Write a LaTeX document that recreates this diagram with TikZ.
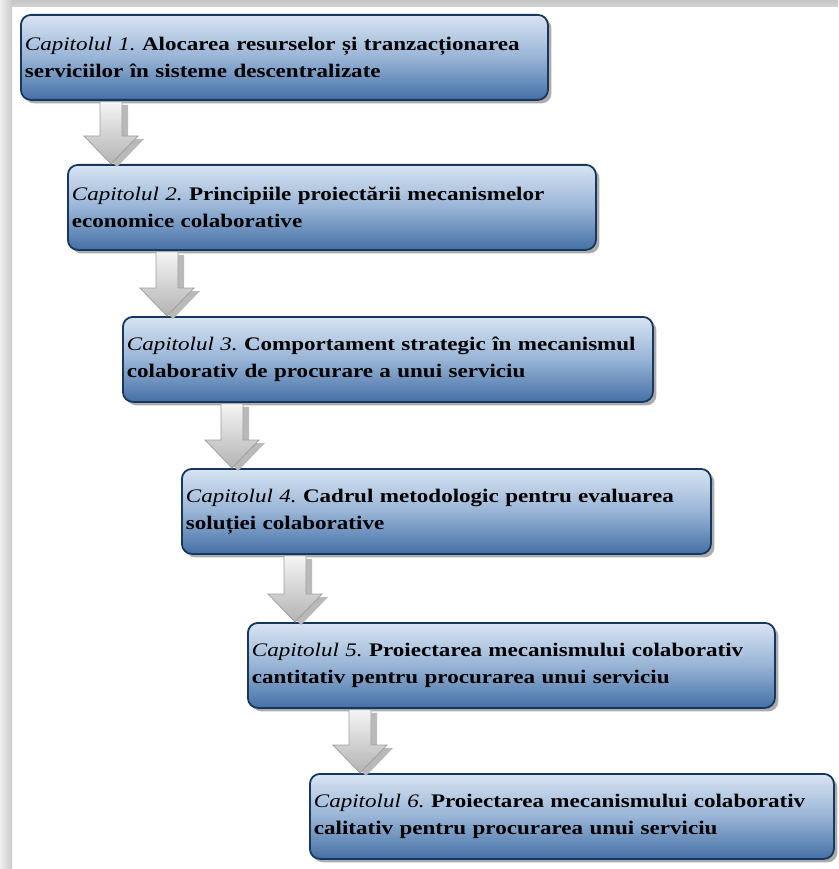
\documentclass[tikz,border=0pt]{standalone}
\usepackage{fontspec}
\setmainfont[FakeStretch=1.2]{Liberation Serif}
\usetikzlibrary{shadows,calc}
\definecolor{boxline}{RGB}{23,55,94}
\definecolor{boxtop}{RGB}{216,228,242}
\definecolor{boxmid}{RGB}{152,180,214}
\definecolor{boxbot}{RGB}{68,112,165}
\tikzset{
  chapbox/.style={draw=boxline, line width=1.8pt, rounded corners=10pt,
    top color=boxtop, bottom color=boxbot, middle color=boxmid,
    drop shadow={shadow xshift=3.5pt, shadow yshift=-3.5pt, fill=gray!65, opacity=1},
    anchor=north west, minimum height=85pt, inner xsep=4pt, inner ysep=0pt,
    align=left, font=\fontsize{19.2}{27}\selectfont\bfseries\frenchspacing},
  blockarrow/.style={draw=gray!75, line width=0.8pt, top color=gray!8, bottom color=gray!60,
    drop shadow={shadow xshift=6pt, shadow yshift=-3pt, fill=gray!55, opacity=1}}
}
\newcommand{\chaparrow}[3]{%
  \draw[blockarrow] let \p1=(#1,0 |- #2.south), \p2=(#1,0 |- #3.north) in
    (\x1-11pt,\y1-1pt) -- (\x1+11pt,\y1-1pt) -- (\x1+11pt,\y2+28pt) -- (\x1+27pt,\y2+28pt)
    -- (\x1,\y2) -- (\x1-27pt,\y2+28pt) -- (\x1-11pt,\y2+28pt) -- cycle;}
\newcommand{\capt}[1]{{\mdseries\itshape Capitolul #1.}}
\begin{document}
\begin{tikzpicture}[x=1pt,y=-1pt]
\useasboundingbox (0,0) rectangle (838,869);
\fill[white] (0,0) rectangle (838,869);
% frame shadow
\shade[top color=gray!45, bottom color=gray!35] (0,0) rectangle (838,7);
\shade[left color=gray!12, right color=gray!42] (0,0) rectangle (12,869);
% boxes
\node[chapbox, text width=519pt] (b1) at (20,14)
  {\capt{1} Alocarea resurselor și tranzacționarea\\serviciilor în sisteme descentralizate};
\node[chapbox, text width=520pt] (b2) at (67,164)
  {\capt{2} Principiile proiectării mecanismelor\\economice colaborative};
\node[chapbox, text width=522pt] (b3) at (122,316)
  {\capt{3} Comportament strategic în mecanismul\\colaborativ de procurare a unui serviciu};
\node[chapbox, text width=521pt] (b4) at (181,468)
  {\capt{4} Cadrul metodologic pentru evaluarea\\soluției colaborative};
\node[chapbox, text width=519pt] (b5) at (247,622)
  {\capt{5} Proiectarea mecanismului colaborativ\\cantitativ pentru procurarea unui serviciu};
\node[chapbox, text width=516pt] (b6) at (309,773)
  {\capt{6} Proiectarea mecanismului colaborativ\\calitativ pentru procurarea unui serviciu};
% arrows
\chaparrow{111}{b1}{b2}
\chaparrow{167}{b2}{b3}
\chaparrow{232}{b3}{b4}
\chaparrow{295}{b4}{b5}
\chaparrow{360}{b5}{b6}
\end{tikzpicture}
\end{document}
